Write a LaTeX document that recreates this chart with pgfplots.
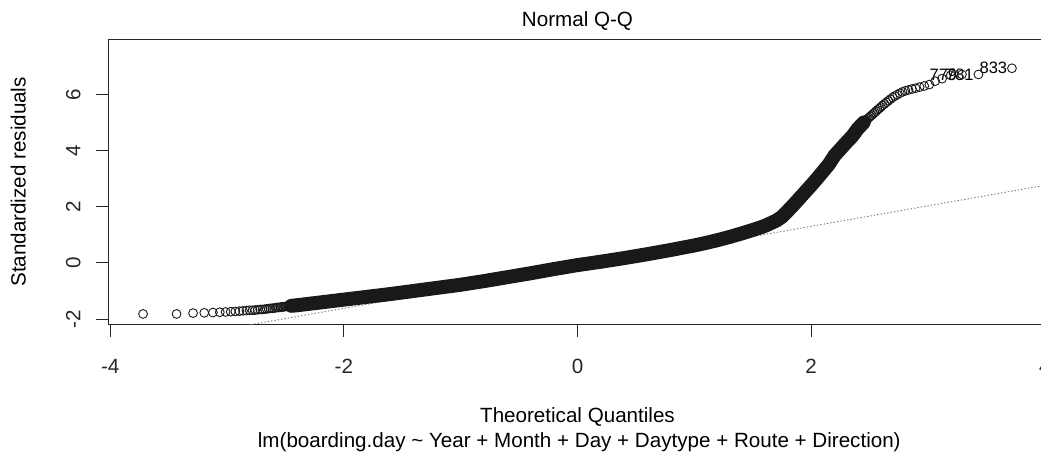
\documentclass[border=0pt]{standalone}
\usepackage{pgfplots}
\pgfplotsset{compat=1.18}
\usepackage{fontspec}
\setmainfont{Liberation Sans}
\newcommand{\rf}{\fontsize{20.6bp}{24bp}\selectfont}
\newcommand{\idf}{\fontsize{16.5bp}{19bp}\selectfont}

\begin{document}
\begin{tikzpicture}
\begin{axis}[
  at={(0,0)}, anchor=south west,
  scale only axis, width=938.4bp, height=285.2bp,
  xmin=-4.0165, xmax=4.0165, ymin=-2.196, ymax=7.962,
  axis line style={line width=0.9bp, black!85},
  tick style={line width=0.9bp, black!85},
  tick align=outside, major tick length=12bp,
  tick pos=left,
  xtick={-4,-2,0,2,4}, xticklabels={-4,-2,0,2,4},
  ytick={-2,0,2,4,6}, yticklabels={-2,0,2,4,6},
  ticklabel style={font=\rf, text=black!85},
  xticklabel style={anchor=base},
  xticklabel shift=36.5bp,
  yticklabel style={rotate=90, anchor=base},
  yticklabel shift=16bp,
  clip=true,
]
% qq reference line (lty = 3)
\addplot[black!55, line width=0.9bp, dash pattern=on 1.3bp off 2.1bp] coordinates {(-4.2,-3.226) (4.2,2.906)};

% dense central band of overlapping points
\addplot[black!90, line width=14bp, line cap=round, line join=round, mark=none] coordinates {
(-2.45,-1.53) (-2.40,-1.51) (-2.2,-1.41) (-2.0,-1.31) (-1.8,-1.21) (-1.6,-1.11) (-1.4,-1.00)
(-1.2,-0.89) (-1.0,-0.78) (-0.8,-0.65) (-0.6,-0.51) (-0.4,-0.37) (-0.2,-0.22)
(0,-0.08) (0.2,0.04) (0.4,0.17) (0.6,0.31) (0.8,0.46) (1.0,0.62) (1.1,0.71)
(1.2,0.81) (1.3,0.92) (1.4,1.04) (1.5,1.17) (1.6,1.31) (1.7,1.50) (1.75,1.64) (1.8,1.85)
(1.85,2.07) (1.9,2.30) (1.95,2.53) (2.0,2.76) (2.05,3.00) (2.1,3.25) (2.15,3.50)
(2.2,3.82) (2.25,4.05) (2.3,4.28) (2.35,4.50) (2.40,4.78) (2.45,5.00)
};

% individual points in the tails
\addplot[only marks, mark=o, mark size=4.4bp, mark options={line width=0.9bp, draw=black!90}] coordinates {
(-3.719,-1.82) (-3.432,-1.82) (-3.291,-1.79) (-3.195,-1.78) (-3.121,-1.77)
(-3.062,-1.76) (-3.012,-1.75) (-2.968,-1.74) (-2.929,-1.73) (-2.894,-1.72)
(-2.863,-1.71) (-2.834,-1.70) (-2.807,-1.69) (-2.782,-1.69) (-2.759,-1.68)
(-2.737,-1.67) (-2.716,-1.66) (-2.697,-1.66) (-2.678,-1.65) (-2.661,-1.64)
(-2.644,-1.63) (-2.628,-1.62) (-2.612,-1.62) (-2.597,-1.61) (-2.583,-1.60)
(-2.569,-1.59) (-2.556,-1.59) (-2.543,-1.58) (-2.531,-1.57) (-2.519,-1.57)
(-2.506,-1.56) (-2.495,-1.55) (-2.484,-1.55) (-2.472,-1.54) (-2.462,-1.54)
(-2.452,-1.53) (-2.442,-1.53) (-2.432,-1.52) (-2.423,-1.52) (-2.414,-1.51)
(-2.386,-1.50)
(2.308,4.35) (2.330,4.43) (2.346,4.51) (2.362,4.60) (2.375,4.66) (2.387,4.72)
(2.400,4.78) (2.414,4.85) (2.423,4.89) (2.432,4.93) (2.442,4.97) (2.452,5.01)
(2.462,5.05) (2.473,5.09) (2.484,5.13) (2.495,5.17) (2.507,5.22) (2.519,5.26)
(2.531,5.31) (2.543,5.35) (2.556,5.40) (2.569,5.45) (2.583,5.50) (2.597,5.55)
(2.612,5.61) (2.628,5.66) (2.644,5.72) (2.661,5.77) (2.678,5.83)
(2.697,5.89) (2.716,5.94) (2.737,5.99) (2.759,6.04) (2.782,6.09) (2.807,6.13)
(2.834,6.16) (2.863,6.19) (2.894,6.22) (2.929,6.26) (2.968,6.30) (3.012,6.35)
(3.062,6.47) (3.121,6.56) (3.195,6.68) (3.291,6.71) (3.432,6.71) (3.719,6.93)
};

\node[anchor=east, font=\idf, inner sep=0pt, xshift=-4.6bp] at (axis cs:3.291,6.71) {779};
\node[anchor=east, font=\idf, inner sep=0pt, xshift=-4.6bp] at (axis cs:3.432,6.71) {781};
\node[anchor=east, font=\idf, inner sep=0pt, xshift=-4.6bp] at (axis cs:3.719,6.93) {833};
\end{axis}

\node[anchor=base, font=\rf] at (469.2bp,297.5bp) {Normal Q-Q};
\node[anchor=base, font=\rf] at (469.2bp,-97.8bp) {Theoretical Quantiles};
\node[anchor=base, font=\rf] at (471bp,-122.5bp) {lm(boarding.day \char`\~{} Year + Month + Day + Daytype + Route + Direction)};
\node[anchor=base, font=\rf, rotate=90] at (-82.6bp,142.6bp) {Standardized residuals};

\pgfresetboundingbox
\path[use as bounding box] (-108.3bp,-133.5bp) rectangle (932.7bp,324.5bp);
\end{tikzpicture}
\end{document}
